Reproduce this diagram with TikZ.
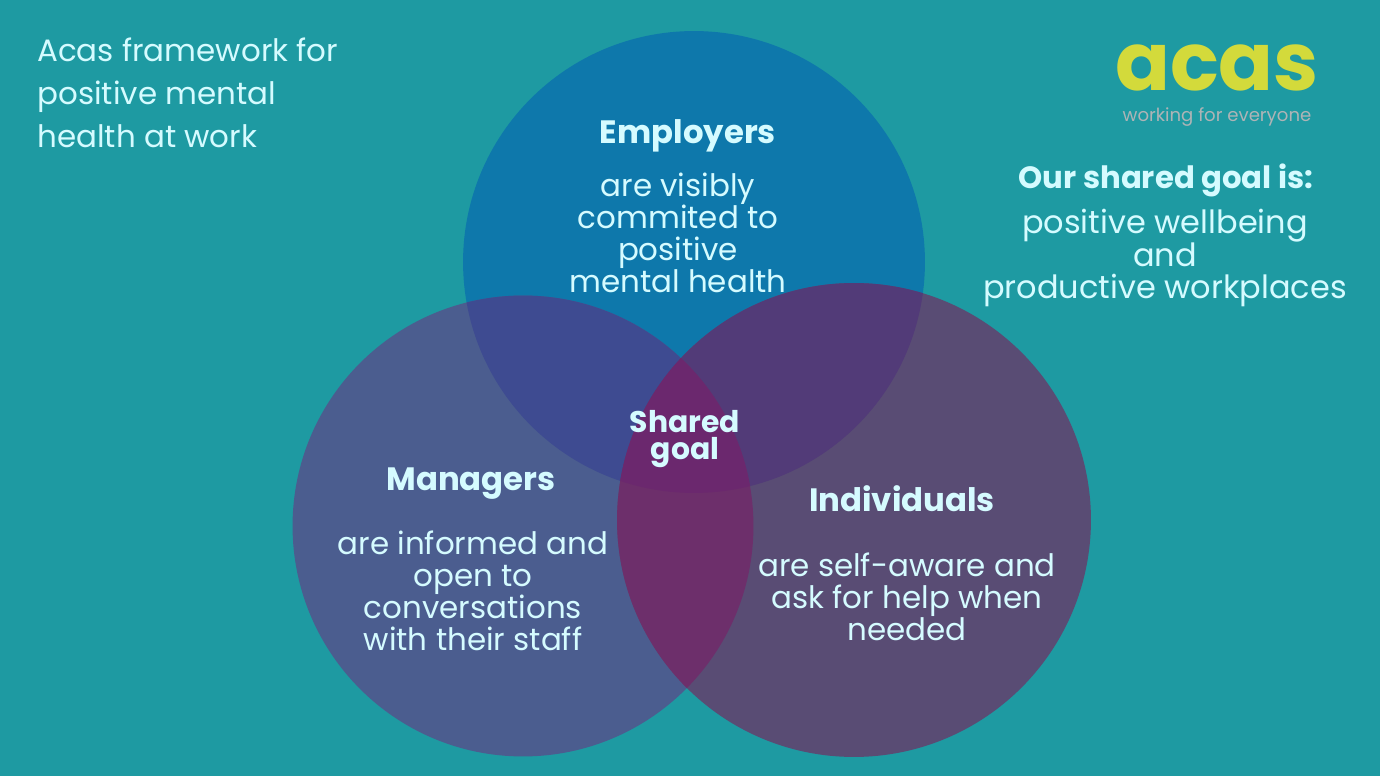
\documentclass[tikz,border=0pt]{standalone}
\usepackage{fontspec}
\setmainfont{Poppins}
\usetikzlibrary{positioning}
\definecolor{bgteal}{HTML}{1E9AA2}
\definecolor{empblue}{HTML}{0E78AB}
\definecolor{mangrey}{HTML}{4B5D8F}
\definecolor{indplum}{HTML}{594C74}
\definecolor{empman}{HTML}{3E4B91}
\definecolor{empind}{HTML}{523B78}
\definecolor{manind}{HTML}{6D2F6B}
\definecolor{allthree}{HTML}{6B286E}
\definecolor{txtcyan}{HTML}{D5FBFF}
\definecolor{acaslime}{HTML}{D3DA3B}
\definecolor{acasgrey}{HTML}{AEB4B6}
\begin{document}
\begin{tikzpicture}[x=0.02cm,y=-0.02cm,
  head/.style={text=txtcyan,font=\bfseries\fontsize{18.4}{20}\selectfont,align=center},
  body/.style={text=txtcyan,font=\fontsize{17.6}{18.2}\selectfont,align=center},
  title/.style={text=txtcyan,font=\fontsize{17.6}{24.4}\selectfont,align=left}]
\fill[bgteal] (0,0) rectangle (1380,776);
\useasboundingbox (0,0) rectangle (1380,776);

\coordinate (e) at (694,262);
\coordinate (m) at (523,526);
\coordinate (i) at (854,520);

% the three circles
\fill[empblue] (e) circle (4.62cm);
\fill[mangrey] (m) circle (4.61cm);
\fill[indplum] (i) circle (4.74cm);

% overlaps
\begin{scope}
\clip (e) circle (4.62cm);
\fill[empman] (m) circle (4.61cm);
\fill[empind] (i) circle (4.74cm);
\end{scope}
\begin{scope}
\clip (m) circle (4.61cm);
\fill[manind] (i) circle (4.74cm);
\begin{scope}
\clip (e) circle (4.62cm);
\fill[allthree] (i) circle (4.74cm);
\end{scope}
\end{scope}

% texts in the circles
\node[head] (emp) at (688,136) {Employers};
\node[body] (empt) at (678,233) {are visibly\\commited to\\positive\\mental health};
\node[head,font=\bfseries\fontsize{17}{15.5}\selectfont] (goal) at (685,439) {Shared\\goal};
\node[head] (man) at (471,484) {Managers};
\node[body] (mant) at (473,591) {are informed and\\open to\\conversations\\with their staff};
\node[head] (ind) at (902,499) {Individuals};
\node[body] (indt) at (907,597) {are self-aware and\\ask for help when\\needed};

% side texts
\node[title,anchor=north west,inner sep=0pt] (frame) at (37,38) {Acas framework for\\positive mental\\health at work};
\node[head,font=\bfseries\fontsize{17.5}{20}\selectfont] (our) at (1166,180) {Our shared goal is:};
\node[body,font=\fontsize{18.2}{18.6}\selectfont] (ourt) at (1165,258) {positive wellbeing\\and\\productive workplaces};

% logo
\node[text=acaslime,font=\bfseries\fontsize{46}{46}\selectfont,inner sep=0pt] (logo) at (1217,68) {acas};
\node[text=acasgrey,font=\fontsize{10.3}{12}\selectfont,inner sep=0pt,below=9pt of logo] (tag) {working for everyone};
\end{tikzpicture}
\end{document}
